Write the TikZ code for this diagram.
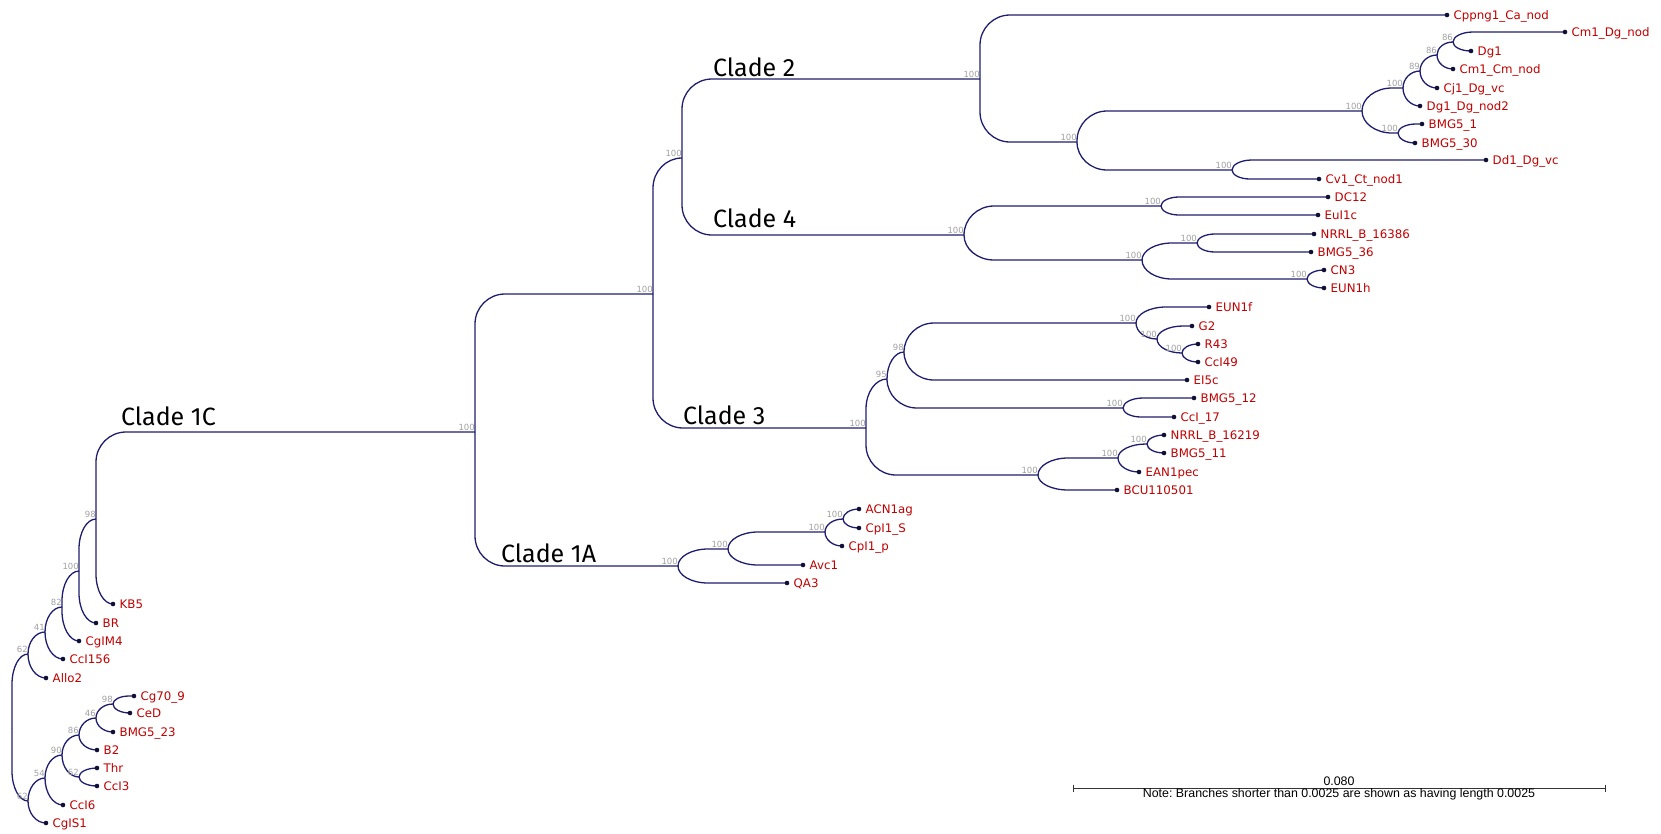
\documentclass[tikz,border=0pt]{standalone}
\usepackage{fontspec}
\setmainfont{DejaVu Sans}
\newfontfamily\cladefont{Fira Sans}
\newfontfamily\notefont{Liberation Sans}
\usetikzlibrary{calc,backgrounds}
\definecolor{treeblue}{RGB}{30,30,112}
\definecolor{tipred}{RGB}{192,0,0}
\definecolor{bootgrey}{RGB}{160,160,160}
\definecolor{tipdot}{RGB}{15,15,55}
\tikzset{
  treeline/.style={treeblue, line width=1.3pt},
  tip/.style={circle, fill=tipdot, inner sep=0pt, minimum size=4.6pt},
  taxon/.style={tipred, anchor=base west, inner sep=0pt, xshift=6.5pt, yshift=-4.3pt,
    font=\fontsize{11.8}{13}\selectfont},
  boot/.style={bootgrey, anchor=south east, inner sep=0pt, yshift=1.5pt,
    font=\fontsize{8.5}{10}\selectfont},
  clade/.style={anchor=base west, inner sep=0pt, font=\cladefont\fontsize{25}{30}\selectfont},
  scalebar/.style={black!80, line width=0.8pt},
  scaletext/.style={anchor=base, inner sep=0pt, font=\notefont\fontsize{12.4}{14}\selectfont\frenchspacing},
}
% rounded elbow from a parent to one child
\newcommand{\branchto}[2]{%
  \draw[treeline] let \p1=(#1), \p2=(#2),
    \n1={min(abs(\y2-\y1),30pt)},
    \n2={min(\x2-\x1,30pt,2*abs(\y2-\y1))},
    \n3={sign(\y2-\y1)} in
    (\p1) -- (\x1,\y2-\n3*\n1)
    .. controls (\x1,\y2-\n3*0.448*\n1) and (\x1+0.448*\n2,\y2) .. (\x1+\n2,\y2)
    -- (\p2);}
\begin{document}
\begin{tikzpicture}[x=1pt,y=-1pt]
  \useasboundingbox (0,0) rectangle (1661,833);
  % Internal nodes with support values
  \coordinate (r0) at (12,728);
  \coordinate (a62) at (28,654);    \node[boot] (a62l) at (a62) {62};
  \coordinate (a41) at (45,632);    \node[boot] (a41l) at (a41) {41};
  \coordinate (a82) at (62,607);    \node[boot] (a82l) at (a82) {82};
  \coordinate (a100) at (79,571);   \node[boot] (a100l) at (a100) {100};
  \coordinate (a98) at (96,519);    \node[boot] (a98l) at (a98) {98};
  \coordinate (b62) at (28,801);    \node[boot] (b62l) at (b62) {62};
  \coordinate (b54) at (45,778);    \node[boot] (b54l) at (b54) {54};
  \coordinate (b90) at (62,755);    \node[boot] (b90l) at (b90) {90};
  \coordinate (b86) at (79,735);    \node[boot] (b86l) at (b86) {86};
  \coordinate (b62c) at (79,777);   \node[boot] (b62cl) at (b62c) {62};
  \coordinate (b46) at (96,718);    \node[boot] (b46l) at (b46) {46};
  \coordinate (b98) at (113,704);   \node[boot] (b98l) at (b98) {98};
  \coordinate (c100) at (475,432);  \node[boot] (c100l) at (c100) {100};
  \coordinate (d100) at (678,566);  \node[boot] (d100l) at (d100) {100};
  \coordinate (d100b) at (728,549); \node[boot] (d100bl) at (d100b) {100};
  \coordinate (d100c) at (825,532); \node[boot] (d100cl) at (d100c) {100};
  \coordinate (d100d) at (843,519); \node[boot] (d100dl) at (d100d) {100};
  \coordinate (e100) at (653,294);  \node[boot] (e100l) at (e100) {100};
  \coordinate (f100) at (682,158);  \node[boot] (f100l) at (f100) {100};
  \coordinate (g100) at (980,79);   \node[boot] (g100l) at (g100) {100};
  \coordinate (g100b) at (1077,142); \node[boot] (g100bl) at (g100b) {100};
  \coordinate (g100c) at (1362,111); \node[boot] (g100cl) at (g100c) {100};
  \coordinate (g100d) at (1403,88);  \node[boot] (g100dl) at (g100d) {100};
  \coordinate (g89) at (1420,71);    \node[boot] (g89l) at (g89) {89};
  \coordinate (g86) at (1437,55);    \node[boot] (g86l) at (g86) {86};
  \coordinate (g86b) at (1453,42);   \node[boot] (g86bl) at (g86b) {86};
  \coordinate (g100e) at (1398,133); \node[boot] (g100el) at (g100e) {100};
  \coordinate (g100f) at (1232,170); \node[boot] (g100fl) at (g100f) {100};
  \coordinate (h100) at (964,235);   \node[boot] (h100l) at (h100) {100};
  \coordinate (h100b) at (1161,206); \node[boot] (h100bl) at (h100b) {100};
  \coordinate (h100c) at (1142,260); \node[boot] (h100cl) at (h100c) {100};
  \coordinate (h100d) at (1197,243); \node[boot] (h100dl) at (h100d) {100};
  \coordinate (h100e) at (1307,279); \node[boot] (h100el) at (h100e) {100};
  \coordinate (k100) at (866,428);   \node[boot] (k100l) at (k100) {100};
  \coordinate (k95) at (887,379);    \node[boot] (k95l) at (k95) {95};
  \coordinate (k98) at (904,352);    \node[boot] (k98l) at (k98) {98};
  \coordinate (k100b) at (1136,323); \node[boot] (k100bl) at (k100b) {100};
  \coordinate (k100c) at (1157,339); \node[boot] (k100cl) at (k100c) {100};
  \coordinate (k100d) at (1182,353); \node[boot] (k100dl) at (k100d) {100};
  \coordinate (k100e) at (1123,408); \node[boot] (k100el) at (k100e) {100};
  \coordinate (k100f) at (1038,475); \node[boot] (k100fl) at (k100f) {100};
  \coordinate (k100g) at (1118,458); \node[boot] (k100gl) at (k100g) {100};
  \coordinate (k100h) at (1147,444); \node[boot] (k100hl) at (k100h) {100};
  % Tips
  \node[tip] (kb5) at (113,604) {};     \node[taxon] (kb5l) at (kb5) {KB5};
  \node[tip] (br) at (96,623) {};       \node[taxon] (brl) at (br) {BR};
  \node[tip] (cgim4) at (79,641) {};    \node[taxon] (cgim4l) at (cgim4) {CgIM4};
  \node[tip] (cci156) at (63,659) {};   \node[taxon] (cci156l) at (cci156) {CcI156};
  \node[tip] (allo2) at (46,678) {};    \node[taxon] (allo2l) at (allo2) {Allo2};
  \node[tip] (cg709) at (134,696) {};   \node[taxon] (cg709l) at (cg709) {Cg70\_9};
  \node[tip] (ced) at (130,713) {};     \node[taxon] (cedl) at (ced) {CeD};
  \node[tip] (bmg523) at (113,732) {};  \node[taxon] (bmg523l) at (bmg523) {BMG5\_23};
  \node[tip] (b2) at (97,750) {};       \node[taxon] (b2l) at (b2) {B2};
  \node[tip] (thr) at (97,768) {};      \node[taxon] (thrl) at (thr) {Thr};
  \node[tip] (cci3) at (97,786) {};     \node[taxon] (cci3l) at (cci3) {CcI3};
  \node[tip] (cci6) at (63,805) {};     \node[taxon] (cci6l) at (cci6) {CcI6};
  \node[tip] (cgis1) at (46,823) {};    \node[taxon] (cgis1l) at (cgis1) {CgIS1};
  \node[tip] (acn1ag) at (859,509) {};  \node[taxon] (acn1agl) at (acn1ag) {ACN1ag};
  \node[tip] (cpi1s) at (859,528) {};   \node[taxon] (cpi1sl) at (cpi1s) {CpI1\_S};
  \node[tip] (cpi1p) at (842,546) {};   \node[taxon] (cpi1pl) at (cpi1p) {CpI1\_p};
  \node[tip] (avc1) at (803,565) {};    \node[taxon] (avc1l) at (avc1) {Avc1};
  \node[tip] (qa3) at (787,583) {};     \node[taxon] (qa3l) at (qa3) {QA3};
  \node[tip] (eun1f) at (1209,307) {};  \node[taxon] (eun1fl) at (eun1f) {EUN1f};
  \node[tip] (g2) at (1192,326) {};     \node[taxon] (g2l) at (g2) {G2};
  \node[tip] (r43) at (1198,344) {};    \node[taxon] (r43l) at (r43) {R43};
  \node[tip] (cci49) at (1198,362) {};  \node[taxon] (cci49l) at (cci49) {CcI49};
  \node[tip] (ei5c) at (1187,380) {};   \node[taxon] (ei5cl) at (ei5c) {EI5c};
  \node[tip] (bmg512) at (1194,398) {}; \node[taxon] (bmg512l) at (bmg512) {BMG5\_12};
  \node[tip] (cci17) at (1174,417) {};  \node[taxon] (cci17l) at (cci17) {CcI\_17};
  \node[tip] (nrrla) at (1164,435) {};  \node[taxon] (nrrlal) at (nrrla) {NRRL\_B\_16219};
  \node[tip] (bmg511) at (1164,453) {}; \node[taxon] (bmg511l) at (bmg511) {BMG5\_11};
  \node[tip] (ean1pec) at (1139,472) {}; \node[taxon] (ean1pecl) at (ean1pec) {EAN1pec};
  \node[tip] (bcu) at (1117,490) {};    \node[taxon] (bcul) at (bcu) {BCU110501};
  \node[tip] (dc12) at (1328,197) {};   \node[taxon] (dc12l) at (dc12) {DC12};
  \node[tip] (eui1c) at (1318,215) {};  \node[taxon] (eui1cl) at (eui1c) {EuI1c};
  \node[tip] (nrrlb) at (1314,234) {};  \node[taxon] (nrrlbl) at (nrrlb) {NRRL\_B\_16386};
  \node[tip] (bmg536) at (1311,252) {}; \node[taxon] (bmg536l) at (bmg536) {BMG5\_36};
  \node[tip] (cn3) at (1324,270) {};    \node[taxon] (cn3l) at (cn3) {CN3};
  \node[tip] (eun1h) at (1324,288) {};  \node[taxon] (eun1hl) at (eun1h) {EUN1h};
  \node[tip] (cppng1) at (1447,15) {};  \node[taxon] (cppng1l) at (cppng1) {Cppng1\_Ca\_nod};
  \node[tip] (cm1dg) at (1565,32) {};   \node[taxon] (cm1dgl) at (cm1dg) {Cm1\_Dg\_nod};
  \node[tip] (dg1) at (1471,51) {};     \node[taxon] (dg1l) at (dg1) {Dg1};
  \node[tip] (cm1cm) at (1453,69) {};   \node[taxon] (cm1cml) at (cm1cm) {Cm1\_Cm\_nod};
  \node[tip] (cj1) at (1437,88) {};     \node[taxon] (cj1l) at (cj1) {Cj1\_Dg\_vc};
  \node[tip] (dg1nod) at (1420,106) {}; \node[taxon] (dg1nodl) at (dg1nod) {Dg1\_Dg\_nod2};
  \node[tip] (bmg51) at (1422,124) {};  \node[taxon] (bmg51l) at (bmg51) {BMG5\_1};
  \node[tip] (bmg530) at (1415,143) {}; \node[taxon] (bmg530l) at (bmg530) {BMG5\_30};
  \node[tip] (dd1) at (1486,160) {};    \node[taxon] (dd1l) at (dd1) {Dd1\_Dg\_vc};
  \node[tip] (cv1) at (1319,179) {};    \node[taxon] (cv1l) at (cv1) {Cv1\_Ct\_nod1};
  % Branches
  \begin{scope}[on background layer]
    \branchto{r0}{a62}     \branchto{r0}{b62}
    \branchto{a62}{a41}    \branchto{a62}{allo2}
    \branchto{a41}{a82}    \branchto{a41}{cci156}
    \branchto{a82}{a100}   \branchto{a82}{cgim4}
    \branchto{a100}{a98}   \branchto{a100}{br}
    \branchto{a98}{c100}   \branchto{a98}{kb5}
    \branchto{b62}{b54}    \branchto{b62}{cgis1}
    \branchto{b54}{b90}    \branchto{b54}{cci6}
    \branchto{b90}{b86}    \branchto{b90}{b62c}
    \branchto{b62c}{thr}   \branchto{b62c}{cci3}
    \branchto{b86}{b46}    \branchto{b86}{b2}
    \branchto{b46}{b98}    \branchto{b46}{bmg523}
    \branchto{b98}{cg709}  \branchto{b98}{ced}
    \branchto{c100}{e100}  \branchto{c100}{d100}
    \branchto{d100}{d100b} \branchto{d100}{qa3}
    \branchto{d100b}{d100c} \branchto{d100b}{avc1}
    \branchto{d100c}{d100d} \branchto{d100c}{cpi1p}
    \branchto{d100d}{acn1ag} \branchto{d100d}{cpi1s}
    \branchto{e100}{f100}  \branchto{e100}{k100}
    \branchto{f100}{g100}  \branchto{f100}{h100}
    \branchto{g100}{cppng1} \branchto{g100}{g100b}
    \branchto{g100b}{g100c} \branchto{g100b}{g100f}
    \branchto{g100c}{g100d} \branchto{g100c}{g100e}
    \branchto{g100d}{g89}  \branchto{g100d}{dg1nod}
    \branchto{g89}{g86}    \branchto{g89}{cj1}
    \branchto{g86}{g86b}   \branchto{g86}{cm1cm}
    \branchto{g86b}{cm1dg} \branchto{g86b}{dg1}
    \branchto{g100e}{bmg51} \branchto{g100e}{bmg530}
    \branchto{g100f}{dd1}  \branchto{g100f}{cv1}
    \branchto{h100}{h100b} \branchto{h100}{h100c}
    \branchto{h100b}{dc12} \branchto{h100b}{eui1c}
    \branchto{h100c}{h100d} \branchto{h100c}{h100e}
    \branchto{h100d}{nrrlb} \branchto{h100d}{bmg536}
    \branchto{h100e}{cn3}  \branchto{h100e}{eun1h}
    \branchto{k100}{k95}   \branchto{k100}{k100f}
    \branchto{k95}{k98}    \branchto{k95}{k100e}
    \branchto{k98}{k100b}  \branchto{k98}{ei5c}
    \branchto{k100b}{eun1f} \branchto{k100b}{k100c}
    \branchto{k100c}{g2}   \branchto{k100c}{k100d}
    \branchto{k100d}{r43}  \branchto{k100d}{cci49}
    \branchto{k100e}{bmg512} \branchto{k100e}{cci17}
    \branchto{k100f}{k100g} \branchto{k100f}{bcu}
    \branchto{k100g}{k100h} \branchto{k100g}{ean1pec}
    \branchto{k100h}{nrrla} \branchto{k100h}{bmg511}
  \end{scope}
  % Clade names
  \node[clade] (cl1c) at (121,425) {Clade 1C};
  \node[clade] (cl1a) at (501,562) {Clade 1A};
  \node[clade] (cl2) at (713,76) {Clade 2};
  \node[clade] (cl4) at (713,227) {Clade 4};
  \node[clade] (cl3) at (683,424) {Clade 3};
  % Scale bar
  \coordinate (sb1) at (1073,788);
  \coordinate (sb2) at (1605,788);
  \draw[scalebar] (sb1) -- (sb2);
  \draw[scalebar] ($(sb1)+(0,-3.5)$) -- ($(sb1)+(0,3.5)$);
  \draw[scalebar] ($(sb2)+(0,-3.5)$) -- ($(sb2)+(0,3.5)$);
  \node[scaletext] (sbval) at (1339,785) {0.080};
  \node[scaletext] (sbnote) at (1339,797) {Note: Branches shorter than 0.0025 are shown as having length 0.0025};
\end{tikzpicture}
\end{document}
